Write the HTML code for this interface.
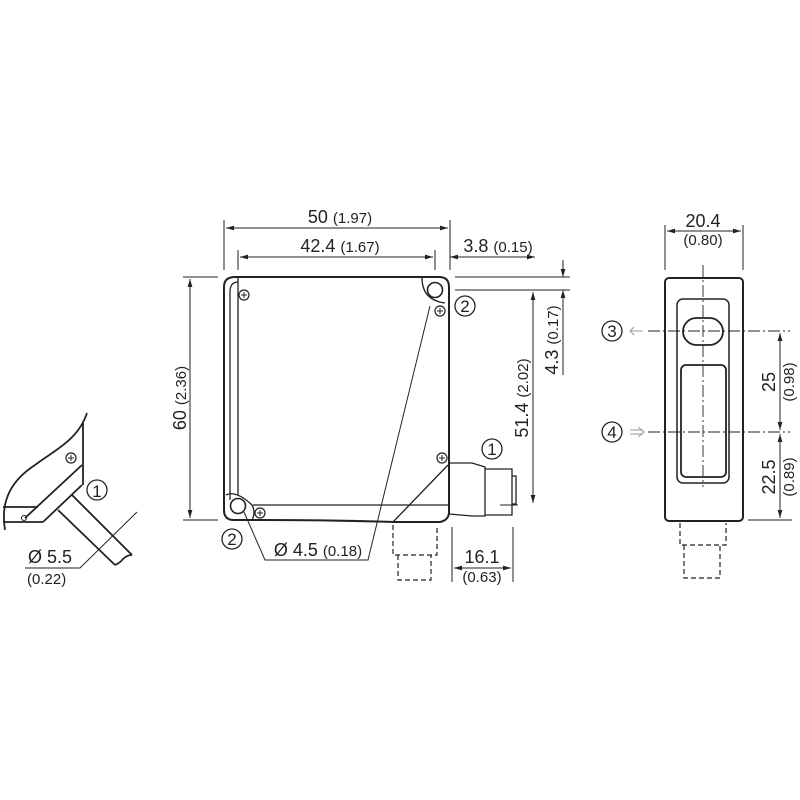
<!DOCTYPE html>
<html><head><style>body{margin:0;background:#fff}svg{display:block}</style></head><body>
<svg width="800" height="800" viewBox="0 0 800 800" xmlns="http://www.w3.org/2000/svg" font-family="Liberation Sans, sans-serif" fill="none" stroke="#222">
<defs><marker id="a" viewBox="0 0 10 10" refX="10" refY="5" markerWidth="8" markerHeight="8" orient="auto-start-reverse"><path d="M0,2 L10,5 L0,8" fill="#222" stroke="none"/></marker>
<g id="s"><circle r="5" stroke-width="1.2"/><path d="M-3,0H3M0,-3V3" stroke-width="1"/></g></defs>
<!-- left detail -->
<g stroke-width="1.8">
<path d="M87,413 C78,440 55,450 35,465 C12,480 0,500 5,530"/>
<path d="M83,423 V485"/>
<path d="M82,465 L25,518"/>
<path d="M82,485 L43,522"/>
<path d="M3,507 H38 M3,522 H43"/>
<path d="M58,510 L115,565 M72,495 L132,555"/>
<path d="M115,565 q5,-2 8,-6 q4,-4 9,-4"/>
</g>
<circle cx="71" cy="458" r="5" stroke-width="1.2"/><path d="M68,458h6M71,455v6" stroke-width="1"/>
<circle cx="24" cy="518" r="2.5" stroke-width="1"/>
<path d="M25,568 H80 L137,512" stroke-width="1"/>
<circle cx="97" cy="490" r="10" stroke-width="1.3"/><text x="97" y="497" font-size="17" text-anchor="middle" fill="#222" stroke="none">1</text>
<text x="28" y="563" font-size="18" fill="#222" stroke="none">Ø 5.5</text>
<text x="27" y="584" font-size="15" fill="#222" stroke="none">(0.22)</text>
<!-- main body -->
<g stroke-width="2">
<path d="M235,277 H439 Q449,277 449,287 V512 Q449,520 440,522 L393,522 Q330,520 260,520 H234 Q224,520 224,510 V287 Q224,277 235,277 Z"/>
</g>
<g stroke-width="1.3">
<path d="M238,278 V495 M238,282 Q230,282 230,292 V500"/>
<path d="M253,505 H449"/>
<path d="M422,278 Q422,300 445,303"/>
<path d="M226,495 Q236,490 252,505 Q256,512 252,520"/>
<path d="M448,465 L393,522"/>
<path d="M449,463 H472 L485,467 V516 H472 L449,514"/>
<path d="M485,469 H512 V515 H485"/>
<path d="M512,476 H516 V504 H512"/>
</g>
<circle cx="435" cy="290" r="7.5" stroke-width="1.6"/>
<circle cx="238" cy="506" r="7.5" stroke-width="1.6"/>
<use href="#s" x="244" y="295"/><use href="#s" x="440" y="311"/><use href="#s" x="442" y="458"/><use href="#s" x="260" y="513"/>
<path d="M393,525 V555 H437 V525 M398,555 V580 H431 V555" stroke-width="1.2" stroke-dasharray="5,3"/>
<!-- dims -->
<g stroke-width="1">
<path d="M224,270 V220 M450,270 V220 M238,270 V250 M435,270 V250 M183,277 H218 M183,520 H218 M455,277 H570 M455,290 H570 M500,505 H518 M452,527 V582 M513,527 V582"/>
<path d="M226,228 H448" marker-start="url(#a)" marker-end="url(#a)"/>
<path d="M240,257 H433" marker-start="url(#a)" marker-end="url(#a)"/>
<path d="M450,257 H535" marker-end="url(#a)" marker-start="url(#a)"/>
<path d="M190,279 V518" marker-start="url(#a)" marker-end="url(#a)"/>
<path d="M533,292 V503" marker-start="url(#a)" marker-end="url(#a)"/>
<path d="M563,260 V277" marker-end="url(#a)"/><path d="M563,290 V375" marker-start="url(#a)"/>
<path d="M454,568 H511" marker-start="url(#a)" marker-end="url(#a)"/>
<path d="M244,512 L265,560 H368 L430,306"/>
</g>
<g fill="#222" stroke="none" font-size="18">
<text x="340" y="223" text-anchor="middle">50 <tspan font-size="15">(1.97)</tspan></text>
<text x="340" y="252" text-anchor="middle">42.4 <tspan font-size="15">(1.67)</tspan></text>
<text x="498" y="252" text-anchor="middle">3.8 <tspan font-size="15">(0.15)</tspan></text>
<text transform="translate(186,398) rotate(-90)" text-anchor="middle">60 <tspan font-size="15">(2.36)</tspan></text>
<text transform="translate(528,398) rotate(-90)" text-anchor="middle">51.4 <tspan font-size="15">(2.02)</tspan></text>
<text transform="translate(558,340) rotate(-90)" text-anchor="middle">4.3 <tspan font-size="15">(0.17)</tspan></text>
<text x="318" y="556" text-anchor="middle">Ø 4.5 <tspan font-size="15">(0.18)</tspan></text>
<text x="482" y="563" text-anchor="middle">16.1</text>
<text x="482" y="582" text-anchor="middle" font-size="15">(0.63)</text>
</g>
<g stroke-width="1.3"><circle cx="465" cy="306" r="10"/><circle cx="232" cy="539" r="10"/><circle cx="492" cy="449" r="10"/></g>
<g fill="#222" stroke="none" font-size="17" text-anchor="middle"><text x="465" y="312">2</text><text x="232" y="545">2</text><text x="492" y="455">1</text></g>
<!-- side view -->
<rect x="665" y="278" width="78" height="243" rx="4" stroke-width="2"/>
<rect x="677" y="299" width="52" height="184" rx="6" stroke-width="1.5"/>
<rect x="683" y="318" width="40" height="27" rx="13.5" stroke-width="1.8"/>
<rect x="681" y="365" width="45" height="112" rx="5" stroke-width="1.8"/>
<path d="M703,265 V487 M648,331 H790 M648,432 H790" stroke-width="0.9" stroke-dasharray="12,3,2,3"/>
<path d="M680,523 V545 H726 V523 M684,545 V578 H720 V545" stroke-width="1.2" stroke-dasharray="5,3"/>
<g stroke-width="1">
<path d="M665,270 V225 M743,270 V225 M748,520 H792"/>
<path d="M667,231 H741" marker-start="url(#a)" marker-end="url(#a)"/>
<path d="M780,333 V430" marker-start="url(#a)" marker-end="url(#a)"/>
<path d="M780,434 V518" marker-start="url(#a)" marker-end="url(#a)"/>
<path d="M643,331 H630 M634,327 L630,331 L634,335 M643,430 H630 M643,434 H630 M638,427 L644,432 L638,437" stroke="#999"/>
</g>
<g fill="#222" stroke="none" text-anchor="middle">
<text x="703" y="227" font-size="18">20.4</text>
<text x="703" y="245" font-size="15">(0.80)</text>
<text transform="translate(775,382) rotate(-90)" font-size="18">25</text>
<text transform="translate(794,382) rotate(-90)" font-size="15">(0.98)</text>
<text transform="translate(775,477) rotate(-90)" font-size="18">22.5</text>
<text transform="translate(794,477) rotate(-90)" font-size="15">(0.89)</text>
</g>
<g stroke-width="1.3"><circle cx="612" cy="331" r="10"/><circle cx="612" cy="432" r="10"/></g>
<g fill="#222" stroke="none" font-size="17" text-anchor="middle"><text x="612" y="337">3</text><text x="612" y="438">4</text></g>
</svg>
</body></html>
